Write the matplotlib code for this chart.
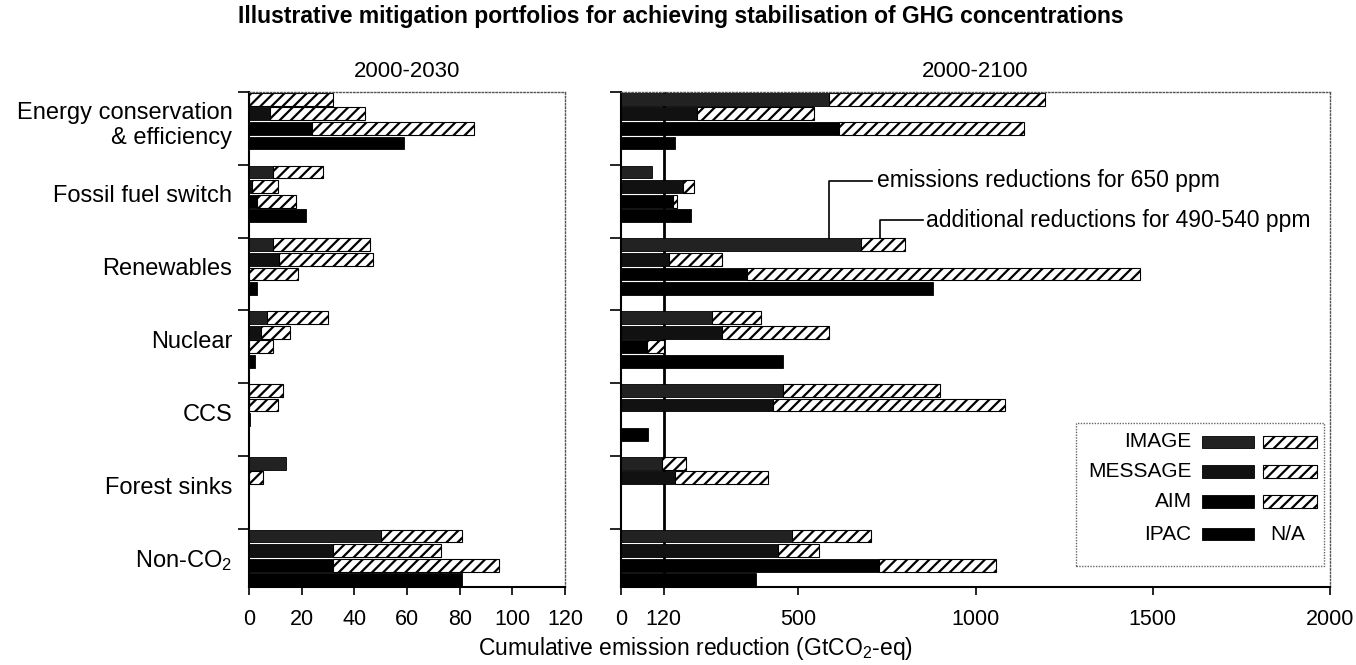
import matplotlib.pyplot as plt
import numpy as np
from matplotlib.patches import Rectangle

plt.rcParams['font.family'] = ['Liberation Sans', 'DejaVu Sans']
plt.rcParams['mathtext.default'] = 'regular'
plt.rcParams['hatch.linewidth'] = 1.6

# categories, top to bottom
categories = ['Energy conservation\n& efficiency', 'Fossil fuel switch', 'Renewables',
              'Nuclear', 'CCS', 'Forest sinks', 'Non-CO$_2$']
models = ['IMAGE', 'MESSAGE', 'AIM', 'IPAC']

# 2000-2030 (GtCO2-eq): reductions for 650 ppm, and total incl. additional 490-540 ppm
image_2030_650 = [0, 9, 9, 7, 0, 14, 50]
image_2030_540 = [32, 28, 46, 30, 13, 14, 81]
message_2030_650 = [8, 1, 11.5, 4.5, 0, 0, 32]
message_2030_540 = [44, 11, 47, 15.5, 11, 5.5, 73]
aim_2030_650 = [24, 3, 0, 0, 0.5, 0, 32]
aim_2030_540 = [85.5, 18, 18.5, 9, 0.5, 0, 95]
ipac_2030_650 = [59, 21.5, 3, 2.3, 0, 0, 81]

# 2000-2100
image_2100_650 = [586, 88, 676, 258, 456, 116, 481]
image_2100_540 = [1196, 88, 801, 395, 901, 184, 706]
message_2100_650 = [214, 175, 135, 286, 430, 151, 444]
message_2100_540 = [544, 207, 286, 588, 1084, 414, 558]
aim_2100_650 = [616, 147, 356, 72, 0, 0, 729]
aim_2100_540 = [1136, 158, 1465, 122, 0, 0, 1057]
ipac_2100_650 = [151, 198, 880, 456, 75, 0, 382]

solid_colors = ['#222222', '#111111', 'black', 'black']

GROUP = 5  # 4 bars + 1 gap per category


def draw_panel(ax, base_list, total_list):
    n = len(categories)
    for j in range(len(models)):
        y = np.arange(n) * GROUP + j + 0.5
        base = np.array(base_list[j], dtype=float)
        m = base > 0
        ax.barh(y[m], base[m], height=0.88, color=solid_colors[j],
                edgecolor='black', linewidth=0.6, zorder=2)
        if total_list[j] is not None:
            total = np.array(total_list[j], dtype=float)
            m2 = total > base
            ax.barh(y[m2], (total - base)[m2], left=base[m2], height=0.88,
                    color='white', edgecolor='black', hatch='///',
                    linewidth=0.8, zorder=2)
    ax.set_ylim(n * GROUP - 1, 0)
    ax.set_yticks(np.arange(n) * GROUP)
    ax.set_yticklabels([])
    ax.tick_params(axis='y', which='major', direction='out', length=8, width=1.2)
    ax.tick_params(axis='x', direction='out', length=6, width=1.2,
                   labelsize=15.5, pad=10)
    for s in ['top', 'right']:
        ax.spines[s].set_linestyle((0, (1, 1.5)))
        ax.spines[s].set_color('#555555')
        ax.spines[s].set_linewidth(1.0)
    for s in ['left', 'bottom']:
        ax.spines[s].set_linewidth(1.5)


fig = plt.figure(figsize=(13.56, 6.65), dpi=100)
ax1 = fig.add_axes([249 / 1356, 1 - 587 / 665, 316 / 1356, 495 / 665])
ax2 = fig.add_axes([621 / 1356, 1 - 587 / 665, 709 / 1356, 495 / 665])

draw_panel(ax1,
           [image_2030_650, message_2030_650, aim_2030_650, ipac_2030_650],
           [image_2030_540, message_2030_540, aim_2030_540, None])
draw_panel(ax2,
           [image_2100_650, message_2100_650, aim_2100_650, ipac_2100_650],
           [image_2100_540, message_2100_540, aim_2100_540, None])

ax1.set_xlim(0, 120)
ax1.set_xticks([0, 20, 40, 60, 80, 100, 120])
ax1.set_yticks(np.arange(len(categories)) * GROUP + 2, minor=True)
ax1.set_yticklabels(categories, minor=True, fontsize=17)
ax1.tick_params(axis='y', which='minor', length=0, pad=12)

ax2.set_xlim(0, 2000)
ax2.set_xticks([0, 120, 500, 1000, 1500, 2000])
ax2.axvline(120, color='black', linewidth=2, zorder=1)

ax1.set_title('2000-2030', fontsize=16, pad=11)
ax2.set_title('2000-2100', fontsize=16, pad=11)

fig.text(0.502, 1 - 17 / 665,
         'Illustrative mitigation portfolios for achieving stabilisation of GHG concentrations',
         ha='center', va='center', fontsize=16.5, fontweight='bold')
fig.text(695 / 1356, 1 - 648 / 665, 'Cumulative emission reduction (GtCO$_2$-eq)',
         ha='center', va='center', fontsize=16.5)

# annotation leaders
ax2.plot([588, 588, 707], [2 * GROUP, 6.1, 6.1], color='black', lw=1.2, zorder=3)
ax2.text(721, 6.1, 'emissions reductions for 650 ppm', fontsize=16.5,
         va='center', ha='left')
ax2.plot([732, 732, 852], [2 * GROUP, 8.8, 8.8], color='black', lw=1.2, zorder=3)
ax2.text(861, 8.8, 'additional reductions for 490-540 ppm', fontsize=16.5,
         va='center', ha='left')

# legend drawn by hand
T = ax2.transAxes
ax2.add_patch(Rectangle((0.642, 0.042), 0.3495, 0.289, transform=T, fill=True,
                        facecolor='white', edgecolor='#666666', linestyle=(0, (1, 1)),
                        linewidth=1.0, zorder=4))
rows = [0.293, 0.234, 0.172, 0.107]
for j, (name, yr) in enumerate(zip(models, rows)):
    ax2.text(0.805, yr, name, transform=T, ha='right', va='center',
             fontsize=15, zorder=5)
    ax2.add_patch(Rectangle((0.82, yr - 0.013), 0.0733, 0.026, transform=T,
                            facecolor=solid_colors[j], edgecolor='black',
                            linewidth=0.6, zorder=5))
    if name != 'IPAC':
        ax2.add_patch(Rectangle((0.905, yr - 0.013), 0.076, 0.026, transform=T,
                                facecolor='white', edgecolor='black', hatch='///',
                                linewidth=0.8, zorder=5))
    else:
        ax2.text(0.94, yr, 'N/A', transform=T, ha='center', va='center',
                 fontsize=15, zorder=5)

fig.savefig('out.png', dpi=100)
